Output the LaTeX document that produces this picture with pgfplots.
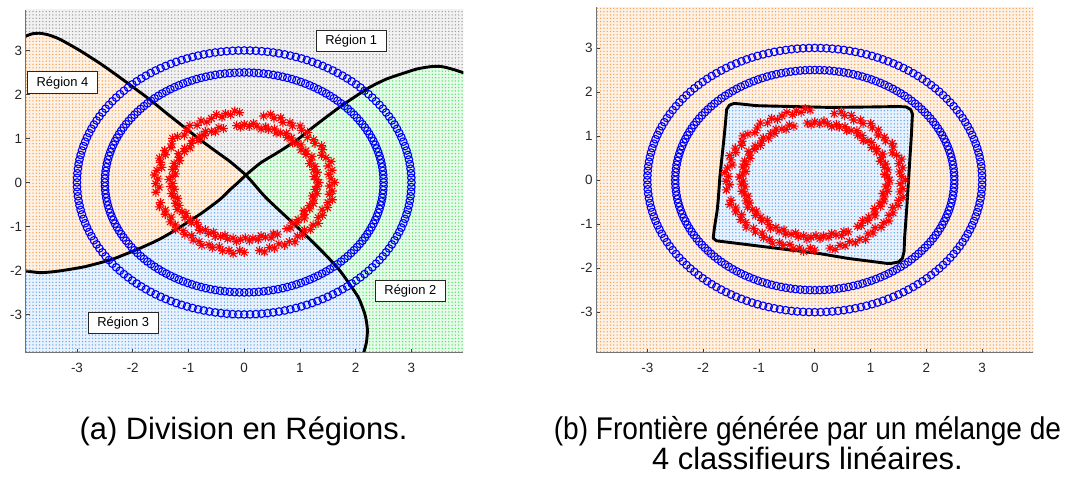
\documentclass[border=0pt]{standalone}
\usepackage{fontspec}
\setmainfont{Liberation Sans}
\usepackage{graphicx}
\usepackage{pgfplots}
\pgfplotsset{compat=1.18}
\usepackage{pgfplotstable}
\usepgfplotslibrary{polar}
\usetikzlibrary{patterns.meta}

\definecolor{regorange}{RGB}{250,160,80}
\definecolor{reggray}{RGB}{160,160,160}
\definecolor{reggreen}{RGB}{80,225,100}
\definecolor{regblue}{RGB}{95,165,240}
\definecolor{axgray}{RGB}{38,38,38}

% MATLAB-style eight-ray asterisk
\pgfdeclareplotmark{mstar}{%
  \pgfpathmoveto{\pgfqpoint{-\pgfplotmarksize}{0pt}}%
  \pgfpathlineto{\pgfqpoint{\pgfplotmarksize}{0pt}}%
  \pgfpathmoveto{\pgfqpoint{0pt}{-\pgfplotmarksize}}%
  \pgfpathlineto{\pgfqpoint{0pt}{\pgfplotmarksize}}%
  \pgfpathmoveto{\pgfqpoint{-.7071\pgfplotmarksize}{-.7071\pgfplotmarksize}}%
  \pgfpathlineto{\pgfqpoint{.7071\pgfplotmarksize}{.7071\pgfplotmarksize}}%
  \pgfpathmoveto{\pgfqpoint{-.7071\pgfplotmarksize}{.7071\pgfplotmarksize}}%
  \pgfpathlineto{\pgfqpoint{.7071\pgfplotmarksize}{-.7071\pgfplotmarksize}}%
  \pgfusepathqstroke}

% class 1: two circles, (angle, radius)
\pgfplotstableread[row sep=\\]{
a r1 r2\\
0 3 2.5\\ 2 3 2.5\\ 4 3 2.5\\ 6 3 2.5\\ 8 3 2.5\\ 10 3 2.5\\ 12 3 2.5\\ 14 3 2.5\\ 16 3 2.5\\ 18 3 2.5\\
20 3 2.5\\ 22 3 2.5\\ 24 3 2.5\\ 26 3 2.5\\ 28 3 2.5\\ 30 3 2.5\\ 32 3 2.5\\ 34 3 2.5\\ 36 3 2.5\\ 38 3 2.5\\
40 3 2.5\\ 42 3 2.5\\ 44 3 2.5\\ 46 3 2.5\\ 48 3 2.5\\ 50 3 2.5\\ 52 3 2.5\\ 54 3 2.5\\ 56 3 2.5\\ 58 3 2.5\\
60 3 2.5\\ 62 3 2.5\\ 64 3 2.5\\ 66 3 2.5\\ 68 3 2.5\\ 70 3 2.5\\ 72 3 2.5\\ 74 3 2.5\\ 76 3 2.5\\ 78 3 2.5\\
80 3 2.5\\ 82 3 2.5\\ 84 3 2.5\\ 86 3 2.5\\ 88 3 2.5\\ 90 3 2.5\\ 92 3 2.5\\ 94 3 2.5\\ 96 3 2.5\\ 98 3 2.5\\
100 3 2.5\\ 102 3 2.5\\ 104 3 2.5\\ 106 3 2.5\\ 108 3 2.5\\ 110 3 2.5\\ 112 3 2.5\\ 114 3 2.5\\ 116 3 2.5\\ 118 3 2.5\\
120 3 2.5\\ 122 3 2.5\\ 124 3 2.5\\ 126 3 2.5\\ 128 3 2.5\\ 130 3 2.5\\ 132 3 2.5\\ 134 3 2.5\\ 136 3 2.5\\ 138 3 2.5\\
140 3 2.5\\ 142 3 2.5\\ 144 3 2.5\\ 146 3 2.5\\ 148 3 2.5\\ 150 3 2.5\\ 152 3 2.5\\ 154 3 2.5\\ 156 3 2.5\\ 158 3 2.5\\
160 3 2.5\\ 162 3 2.5\\ 164 3 2.5\\ 166 3 2.5\\ 168 3 2.5\\ 170 3 2.5\\ 172 3 2.5\\ 174 3 2.5\\ 176 3 2.5\\ 178 3 2.5\\
180 3 2.5\\ 182 3 2.5\\ 184 3 2.5\\ 186 3 2.5\\ 188 3 2.5\\ 190 3 2.5\\ 192 3 2.5\\ 194 3 2.5\\ 196 3 2.5\\ 198 3 2.5\\
200 3 2.5\\ 202 3 2.5\\ 204 3 2.5\\ 206 3 2.5\\ 208 3 2.5\\ 210 3 2.5\\ 212 3 2.5\\ 214 3 2.5\\ 216 3 2.5\\ 218 3 2.5\\
220 3 2.5\\ 222 3 2.5\\ 224 3 2.5\\ 226 3 2.5\\ 228 3 2.5\\ 230 3 2.5\\ 232 3 2.5\\ 234 3 2.5\\ 236 3 2.5\\ 238 3 2.5\\
240 3 2.5\\ 242 3 2.5\\ 244 3 2.5\\ 246 3 2.5\\ 248 3 2.5\\ 250 3 2.5\\ 252 3 2.5\\ 254 3 2.5\\ 256 3 2.5\\ 258 3 2.5\\
260 3 2.5\\ 262 3 2.5\\ 264 3 2.5\\ 266 3 2.5\\ 268 3 2.5\\ 270 3 2.5\\ 272 3 2.5\\ 274 3 2.5\\ 276 3 2.5\\ 278 3 2.5\\
280 3 2.5\\ 282 3 2.5\\ 284 3 2.5\\ 286 3 2.5\\ 288 3 2.5\\ 290 3 2.5\\ 292 3 2.5\\ 294 3 2.5\\ 296 3 2.5\\ 298 3 2.5\\
300 3 2.5\\ 302 3 2.5\\ 304 3 2.5\\ 306 3 2.5\\ 308 3 2.5\\ 310 3 2.5\\ 312 3 2.5\\ 314 3 2.5\\ 316 3 2.5\\ 318 3 2.5\\
320 3 2.5\\ 322 3 2.5\\ 324 3 2.5\\ 326 3 2.5\\ 328 3 2.5\\ 330 3 2.5\\ 332 3 2.5\\ 334 3 2.5\\ 336 3 2.5\\ 338 3 2.5\\
340 3 2.5\\ 342 3 2.5\\ 344 3 2.5\\ 346 3 2.5\\ 348 3 2.5\\ 350 3 2.5\\ 352 3 2.5\\ 354 3 2.5\\ 356 3 2.5\\ 358 3 2.5\\
}\ringtab

% class 2: two noisy rings, (angle, radius)
\pgfplotstableread[row sep=\\]{
a r\\
0 1.62\\ 3 1.56\\ 7 1.53\\ 10 1.60\\ 14 1.55\\ 17 1.63\\ 21 1.57\\ 24 1.52\\ 28 1.59\\ 31 1.62\\
35 1.55\\ 38 1.58\\ 42 1.53\\ 45 1.61\\ 49 1.57\\ 52 1.63\\ 56 1.55\\ 59 1.59\\ 63 1.53\\ 66 1.61\\
70 1.56\\ 73 1.62\\ 77 1.55\\ 93 1.59\\ 96 1.63\\ 99 1.56\\ 102 1.60\\ 105 1.54\\ 108 1.62\\ 112 1.57\\
116 1.53\\ 119 1.60\\ 123 1.55\\ 127 1.62\\ 131 1.57\\ 135 1.52\\ 139 1.59\\ 142 1.63\\ 146 1.57\\ 149 1.53\\
153 1.60\\ 156 1.55\\ 160 1.62\\ 163 1.57\\ 167 1.52\\ 170 1.59\\ 174 1.62\\ 177 1.55\\ 181 1.59\\ 184 1.53\\
188 1.60\\ 197 1.57\\ 200 1.62\\ 204 1.55\\ 207 1.59\\ 211 1.53\\ 214 1.60\\ 218 1.57\\ 221 1.63\\ 225 1.55\\
228 1.59\\ 232 1.53\\ 235 1.60\\ 239 1.57\\ 242 1.62\\ 246 1.55\\ 249 1.59\\ 253 1.53\\ 256 1.60\\ 260 1.57\\
263 1.63\\ 267 1.55\\ 270 1.59\\ 280 1.57\\ 283 1.62\\ 287 1.55\\ 290 1.59\\ 294 1.53\\ 297 1.60\\ 301 1.57\\
304 1.63\\ 308 1.55\\ 311 1.59\\ 315 1.53\\ 318 1.60\\ 322 1.57\\ 325 1.62\\ 329 1.55\\ 332 1.59\\ 336 1.53\\
339 1.60\\ 343 1.57\\ 346 1.63\\ 350 1.55\\ 353 1.59\\ 357 1.53\\
0 1.34\\ 3 1.30\\ 6 1.26\\ 10 1.33\\ 13 1.28\\ 16 1.32\\ 20 1.25\\ 23 1.30\\ 26 1.35\\ 30 1.28\\
33 1.32\\ 36 1.26\\ 40 1.33\\ 43 1.30\\ 46 1.25\\ 50 1.32\\ 53 1.28\\ 56 1.35\\ 60 1.30\\ 63 1.26\\
66 1.33\\ 70 1.28\\ 73 1.32\\ 76 1.25\\ 80 1.30\\ 83 1.35\\ 86 1.28\\ 90 1.32\\ 93 1.26\\ 96 1.30\\
107 1.28\\ 110 1.33\\ 114 1.26\\ 117 1.30\\ 121 1.35\\ 124 1.28\\ 127 1.32\\ 131 1.26\\ 134 1.33\\ 137 1.30\\
141 1.25\\ 144 1.32\\ 147 1.28\\ 151 1.35\\ 154 1.30\\ 157 1.26\\ 161 1.33\\ 164 1.28\\ 167 1.32\\ 171 1.25\\
174 1.30\\ 177 1.35\\ 181 1.28\\ 184 1.32\\ 187 1.26\\ 191 1.33\\ 194 1.30\\ 197 1.25\\ 201 1.32\\ 204 1.28\\
207 1.35\\ 211 1.30\\ 214 1.26\\ 217 1.33\\ 221 1.28\\ 224 1.32\\ 227 1.25\\ 231 1.30\\ 234 1.35\\ 237 1.28\\
241 1.32\\ 244 1.26\\ 247 1.33\\ 251 1.30\\ 254 1.25\\ 257 1.32\\ 261 1.28\\ 264 1.35\\ 267 1.30\\ 271 1.26\\
274 1.33\\ 277 1.28\\ 281 1.32\\ 284 1.25\\ 287 1.30\\ 291 1.35\\ 294 1.28\\ 297 1.32\\ 306 1.30\\ 309 1.33\\
313 1.26\\ 316 1.32\\ 319 1.28\\ 323 1.35\\ 326 1.30\\ 329 1.25\\ 333 1.32\\ 336 1.28\\ 339 1.33\\ 343 1.30\\
346 1.26\\ 349 1.33\\ 353 1.28\\ 356 1.32\\
}\startab

% region boundaries (left panel), from the meeting point outwards
\pgfplotstableread[row sep=\\]{
x y\\
0.03 0.17\\ -0.25 0.47\\ -0.49 0.69\\ -0.80 0.98\\ -1.09 1.27\\ -1.40 1.58\\ -1.68 1.87\\ -2.04 2.21\\
-2.30 2.45\\ -2.58 2.70\\ -2.95 3.00\\ -3.30 3.25\\ -3.50 3.35\\ -3.66 3.39\\ -3.80 3.38\\ -3.93 3.32\\
}\bdA
\pgfplotstableread[row sep=\\]{
x y\\
0.03 0.17\\ 0.30 0.45\\ 0.60 0.68\\ 0.94 0.96\\ 1.30 1.32\\ 1.72 1.72\\ 2.00 1.96\\ 2.26 2.17\\
2.55 2.35\\ 2.85 2.48\\ 3.10 2.58\\ 3.33 2.63\\ 3.50 2.64\\ 3.63 2.61\\ 3.80 2.55\\ 3.94 2.49\\
}\bdB
\pgfplotstableread[row sep=\\]{
x y\\
0.03 0.17\\ -0.10 0.01\\ -0.25 -0.16\\ -0.43 -0.38\\ -0.79 -0.72\\ -1.27 -1.11\\ -1.55 -1.31\\
-1.86 -1.49\\ -2.15 -1.64\\ -2.40 -1.76\\ -2.88 -1.92\\ -3.36 -2.02\\ -3.66 -2.05\\ -3.93 -2.01\\
}\bdC
\pgfplotstableread[row sep=\\]{
x y\\
0.03 0.17\\ 0.15 0.00\\ 0.40 -0.36\\ 0.94 -1.00\\ 1.25 -1.38\\ 1.50 -1.70\\ 1.70 -1.98\\
1.84 -2.22\\ 2.05 -2.62\\ 2.17 -3.02\\ 2.21 -3.35\\ 2.19 -3.65\\ 2.14 -3.88\\
}\bdD

% mixture boundary (right panel)
\pgfplotstableread[row sep=\\]{
x y\\
-1.70 0.08\\ -1.63 0.91\\ -1.60 1.30\\ -1.58 1.60\\ -1.53 1.70\\ -1.45 1.74\\ -1.34 1.73\\ -1.05 1.69\\
-0.75 1.68\\ 0.27 1.65\\ 1.00 1.66\\ 1.50 1.67\\ 1.64 1.66\\ 1.72 1.60\\ 1.75 1.50\\ 1.73 1.00\\
1.69 0.20\\ 1.65 -0.60\\ 1.61 -1.30\\ 1.60 -1.62\\ 1.57 -1.78\\ 1.50 -1.86\\ 1.38 -1.89\\ 1.28 -1.89\\
0.60 -1.78\\ 0.09 -1.67\\ -0.80 -1.53\\ -1.50 -1.42\\ -1.76 -1.38\\ -1.82 -1.32\\ -1.80 -1.10\\
-1.75 -0.70\\ -1.73 -0.45\\ -1.70 0.08\\
}\mixbd

\pgfplotsset{
  panel/.style={
    scale only axis,
    axis x line*=bottom, axis y line*=left,
    axis line style={black!55, line width=1bp, -},
    tick align=inside, major tick length=4bp,
    tick style={black!75, line width=0.6bp},
    xtick={-3,...,3}, ytick={-3,...,3},
    tick label style={font=\fontsize{13.5}{15}\selectfont, color=axgray},
    xticklabel style={yshift=-7bp},
    /pgf/number format/assume math mode=true,
    axis on top,
  },
  region/.style={draw=none, fill=#1!14, postaction={pattern={Dots[distance=3.3bp, radius=0.75bp]}, pattern color=#1}, forget plot},
  ringmarks/.style={only marks, mark=o, mark size=3.8bp, color=blue, mark options={line width=1.1bp}, data cs=polar},
  starmarks/.style={only marks, mark=mstar, mark size=4.6bp, color=red, mark options={line width=1.1bp}, data cs=polar},
  bound/.style={black, line width=2.9bp, line join=round, line cap=round},
}
\tikzset{
  regbox/.style={draw=black!85, fill=white, line width=0.7bp, inner xsep=9bp, minimum height=21.5bp, font=\fontsize{13}{15}\selectfont},
  subcap/.style={anchor=base, inner sep=0pt, font=\fontsize{#1}{34}\selectfont},
}

\begin{document}
\begin{tikzpicture}
\useasboundingbox (0,0) rectangle (1070bp,-477bp);

\begin{axis}[panel, at={(25.7bp,-352.7bp)}, anchor=south west,
  width=437.6bp, height=342.7bp,
  xmin=-3.92, xmax=3.93, ymin=-3.87, ymax=3.92]
  % Région 1
  \addplot[region=reggray] coordinates {(-3.95,3.95) (-3.93,3.32) (-3.80,3.38) (-3.66,3.39) (-3.50,3.35) (-3.30,3.25) (-2.95,3.00) (-2.58,2.70) (-2.30,2.45) (-2.04,2.21) (-1.68,1.87) (-1.40,1.58) (-1.09,1.27) (-0.80,0.98) (-0.49,0.69) (-0.25,0.47) (0.03,0.17) (0.30,0.45) (0.60,0.68) (0.94,0.96) (1.30,1.32) (1.72,1.72) (2.00,1.96) (2.26,2.17) (2.55,2.35) (2.85,2.48) (3.10,2.58) (3.33,2.63) (3.50,2.64) (3.63,2.61) (3.80,2.55) (3.95,2.49) (3.95,3.95)};
  % Région 4
  \addplot[region=regorange] coordinates {(-3.95,3.32) (-3.80,3.38) (-3.66,3.39) (-3.50,3.35) (-3.30,3.25) (-2.95,3.00) (-2.58,2.70) (-2.30,2.45) (-2.04,2.21) (-1.68,1.87) (-1.40,1.58) (-1.09,1.27) (-0.80,0.98) (-0.49,0.69) (-0.25,0.47) (0.03,0.17) (-0.10,0.01) (-0.25,-0.16) (-0.43,-0.38) (-0.79,-0.72) (-1.27,-1.11) (-1.55,-1.31) (-1.86,-1.49) (-2.15,-1.64) (-2.40,-1.76) (-2.88,-1.92) (-3.36,-2.02) (-3.66,-2.05) (-3.95,-2.01)};
  % Région 3
  \addplot[region=regblue] coordinates {(-3.95,-3.95) (-3.95,-2.01) (-3.66,-2.05) (-3.36,-2.02) (-2.88,-1.92) (-2.40,-1.76) (-2.15,-1.64) (-1.86,-1.49) (-1.55,-1.31) (-1.27,-1.11) (-0.79,-0.72) (-0.43,-0.38) (-0.25,-0.16) (-0.10,0.01) (0.03,0.17) (0.15,0.00) (0.40,-0.36) (0.94,-1.00) (1.25,-1.38) (1.50,-1.70) (1.70,-1.98) (1.84,-2.22) (2.05,-2.62) (2.17,-3.02) (2.21,-3.35) (2.19,-3.65) (2.14,-3.95)};
  % Région 2
  \addplot[region=reggreen] coordinates {(0.03,0.17) (0.30,0.45) (0.60,0.68) (0.94,0.96) (1.30,1.32) (1.72,1.72) (2.00,1.96) (2.26,2.17) (2.55,2.35) (2.85,2.48) (3.10,2.58) (3.33,2.63) (3.50,2.64) (3.63,2.61) (3.80,2.55) (3.95,2.49) (3.95,-3.95) (2.14,-3.95) (2.19,-3.65) (2.21,-3.35) (2.17,-3.02) (2.05,-2.62) (1.84,-2.22) (1.70,-1.98) (1.50,-1.70) (1.25,-1.38) (0.94,-1.00) (0.40,-0.36) (0.15,0.00)};

  \addplot[ringmarks] table[x=a, y=r1] {\ringtab};
  \addplot[ringmarks] table[x=a, y=r2] {\ringtab};
  \addplot[starmarks] table[x=a, y=r] {\startab};

  \addplot[bound, smooth, tension=0.4] table {\bdA};
  \addplot[bound, smooth, tension=0.4] table {\bdB};
  \addplot[bound, smooth, tension=0.4] table {\bdC};
  \addplot[bound, smooth, tension=0.4] table {\bdD};

  \node[regbox] at (axis cs:1.92,3.22) {Région 1};
  \node[regbox] at (axis cs:-3.26,2.27) {Région 4};
  \node[regbox] at (axis cs:-2.17,-3.19) {Région 3};
  \node[regbox] at (axis cs:2.98,-2.46) {Région 2};
\end{axis}

\begin{axis}[panel, at={(596bp,-352.7bp)}, anchor=south west,
  width=437bp, height=345.7bp,
  xmin=-3.92, xmax=3.91, ymin=-3.92, ymax=3.93]
  \addplot[region=regorange] coordinates {(-3.95,-3.95) (3.95,-3.95) (3.95,3.95) (-3.95,3.95)};
  \addplot[region=regblue] table {\mixbd};

  \addplot[ringmarks] table[x=a, y=r1] {\ringtab};
  \addplot[ringmarks] table[x=a, y=r2] {\ringtab};
  \addplot[starmarks] table[x=a, y=r] {\startab};

  \addplot[bound] table {\mixbd};
\end{axis}

\node[subcap=31] at (243.5bp,-439bp) {(a) Division en Régions.};
\node[subcap=31.5] at (807.5bp,-439bp) {\scalebox{0.895}[1]{(b) Frontière générée par un mélange de}};
\node[subcap=31] at (807.5bp,-469bp) {4 classifieurs linéaires.};
\end{tikzpicture}
\end{document}
